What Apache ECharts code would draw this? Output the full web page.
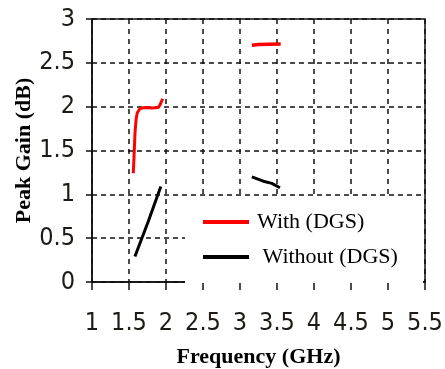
<!DOCTYPE html>
<html><head><meta charset="utf-8">
<script src="https://cdn.jsdelivr.net/npm/echarts@6/dist/echarts.min.js"></script>
<style>html,body{margin:0;padding:0;background:#fff}#c{width:445px;height:369px}</style>
</head><body><div id="c"></div><script>
// Data
const xTickLabels = ['1','1.5','2','2.5','3','3.5','4','4.5','5','5.5'];
const yTickLabels = ['0','0.5','1','1.5','2','2.5','3'];

// With (DGS) - low band segment
const withLowFreq = [1.558, 1.568, 1.581, 1.595, 1.612, 1.649, 1.716, 1.811, 1.896, 1.919, 1.955];
const withLowGain = [1.24, 1.43, 1.70, 1.85, 1.93, 1.98, 1.99, 1.985, 1.99, 2.02, 2.09];
// With (DGS) - high band segment
const withHighFreq = [3.16, 3.25, 3.55];
const withHighGain = [2.70, 2.71, 2.715];

// Without (DGS) - low band segment
const withoutLowFreq = [1.58, 1.76, 1.93];
const withoutLowGain = [0.29, 0.69, 1.09];
// Without (DGS) - high band segment
const withoutHighFreq = [3.16, 3.315, 3.43, 3.54];
const withoutHighGain = [1.20, 1.15, 1.125, 1.075];

const pair = (xs, ys) => xs.map((x, i) => [x, ys[i]]);

const labelFont = "'Liberation Sans Narrow', 'DejaVu Sans Condensed', 'Arial Narrow', sans-serif";
const serif = "'Liberation Serif', 'Times New Roman', serif";

const chart = echarts.init(document.getElementById('c'), null, {renderer: 'canvas'});

const lineSeries = (name, color, data, width) => ({
  type: 'line', name, data, showSymbol: false, symbol: 'none',
  lineStyle: {color, width: width || 3}, itemStyle: {color}, z: 3, animation: false
});

chart.setOption({
  animation: false,
  backgroundColor: '#fff',
  grid: {left: 92, right: 20, top: 19, bottom: 87, outerBoundsMode: 'none', containLabel: false,
    show: true, borderColor: '#111', borderWidth: 1.5, backgroundColor: 'transparent'},
  xAxis: {
    type: 'value', min: 1, max: 5.5, interval: 0.5,
    name: 'Frequency (GHz)', nameLocation: 'middle', nameGap: 64, nameMoveOverlap: false,
    nameTextStyle: {fontFamily: serif, fontWeight: 'bold', fontSize: 22, color: '#000'},
    axisLine: {show: true, onZero: false, lineStyle: {color: '#111', width: 1.5}},
    axisTick: {show: true, length: 8, lineStyle: {color: '#111', width: 1.5}},
    axisLabel: {margin: 29, fontFamily: labelFont, fontSize: 25, color: '#1e1a16',
      formatter: (v) => xTickLabels[Math.round((v - 1) / 0.5)] ?? ''},
    splitLine: {show: true, lineStyle: {color: '#111', width: 1.5, type: [5, 5]}}
  },
  yAxis: {
    type: 'value', min: 0, max: 3, interval: 0.5,
    name: 'Peak Gain (dB)', nameLocation: 'middle', nameGap: 57, nameMoveOverlap: false,
    nameTextStyle: {fontFamily: serif, fontWeight: 'bold', fontSize: 22, color: '#000'},
    axisLine: {show: true, lineStyle: {color: '#111', width: 1.5}},
    axisTick: {show: true, length: 6, lineStyle: {color: '#111', width: 1.5}},
    axisLabel: {margin: 17, fontFamily: labelFont, fontSize: 25, color: '#1e1a16',
      formatter: (v) => yTickLabels[Math.round(v / 0.5)] ?? ''},
    splitLine: {show: true, lineStyle: {color: '#111', width: 1.5, type: [5, 4]}}
  },
  legend: {
    orient: 'vertical', left: 203, top: 211, itemGap: 13, padding: 0,
    itemWidth: 46, itemHeight: 4, icon: 'rect',
    data: ['With (DGS)', 'Without (DGS)'],
    formatter: (n) => n === 'Without (DGS)' ? ' ' + n : n,
    textStyle: {fontFamily: serif, fontSize: 22, color: '#000', padding: [0, 0, 0, 3]}
  },
  graphic: [{
    type: 'rect', left: 185, top: 197, z: 1,
    shape: {width: 238, height: 86}, style: {fill: '#fff'}
  }],
  series: [
    lineSeries('With (DGS)', '#ff0000', pair(withLowFreq, withLowGain)),
    lineSeries('With (DGS)', '#ff0000', pair(withHighFreq, withHighGain), 3.5),
    lineSeries('Without (DGS)', '#000000', pair(withoutLowFreq, withoutLowGain)),
    lineSeries('Without (DGS)', '#000000', pair(withoutHighFreq, withoutHighGain))
  ]
});
</script></body></html>
